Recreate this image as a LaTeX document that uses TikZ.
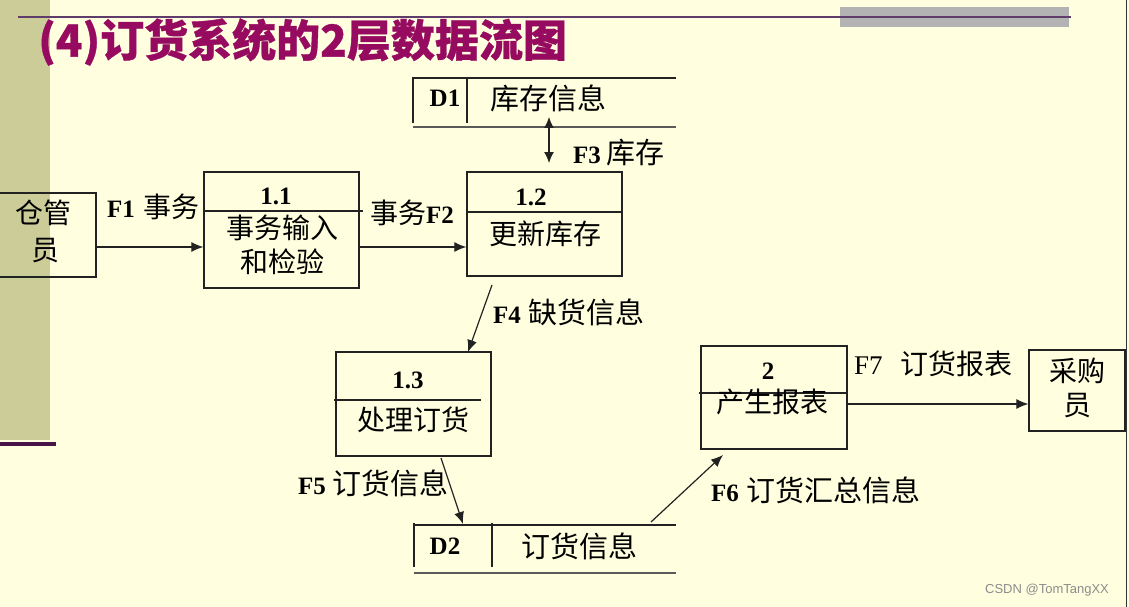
\documentclass[tikz,border=0pt]{standalone}
\usepackage{fontspec}
\setmainfont{Liberation Serif}
\newfontfamily\cjk{Noto Sans CJK SC}
\newfontfamily\titlef{Noto Sans CJK SC}[FakeBold=0.8]
\newfontfamily\wm{Liberation Sans}
\usetikzlibrary{arrows.meta,calc}
\definecolor{bgc}{RGB}{255,255,224}
\definecolor{olivec}{RGB}{204,204,153}
\definecolor{dpurp}{RGB}{70,20,70}
\definecolor{tlinec}{RGB}{95,60,105}
\definecolor{gbarc}{RGB}{179,179,179}
\definecolor{titlec}{RGB}{150,10,95}
\definecolor{lc}{RGB}{34,34,34}
\definecolor{slc}{RGB}{90,90,90}
\begin{document}
\begin{tikzpicture}[x=1pt,y=-1pt,
  box/.style={draw=lc,line width=1.3pt,inner sep=0pt},
  cj/.style={inner sep=0pt,text=black,font=\fontsize{28}{30}\selectfont\cjk},
  lt/.style={inner sep=0pt,text=black,font=\fontsize{25}{28}\selectfont\bfseries},
  arr/.style={draw=lc,line width=1.2pt,-{Latex[length=12pt,width=10pt]}},
  arrb/.style={draw=lc,line width=1.2pt,{Latex[length=11pt,width=10pt]}-{Latex[length=11pt,width=10pt]}},
  dline/.style={draw=lc,line width=1.2pt},
  sline/.style={draw=slc,line width=2pt}]
\useasboundingbox (0,0) rectangle (1129,607);
\fill[bgc] (0,0) rectangle (1129,607);
\fill[olivec] (0,0) rectangle (50,440);
\fill[dpurp] (0,442) rectangle (56,446);
\fill[gbarc] (840,7) rectangle (1069,27);
\draw[tlinec,line width=2pt] (18,17) -- (1071,17);
\draw[black!80,line width=1pt] (1126.5,0) -- (1126.5,607);
\node[anchor=west,inner sep=0pt,text=titlec,font=\fontsize{44}{48}\selectfont\titlef\bfseries] (title) at (38,42) {(4)订货系统的2层数据流图};

% external entity 仓管员
\node[box,minimum width=108,minimum height=84] (cg) at (42,235) {};
\node[cj] (cgt1) at (44,213) {仓管};
\node[cj] (cgt2) at (45,251) {员};

% process 1.1
\node[box,minimum width=155,minimum height=116] (p11) at (281.5,230) {};
\draw[dline] (203,211) -- (363,211);
\node[lt] (p11n) at (276,196) {1.1};
\node[cj] (p11a) at (282,228) {事务输入};
\node[cj] (p11b) at (282,262) {和检验};

% process 1.2
\node[box,minimum width=155,minimum height=104] (p12) at (544.5,224) {};
\draw[dline] (467,212) -- (622,212);
\node[lt] (p12n) at (531,197) {1.2};
\node[cj] (p12a) at (545,234) {更新库存};

% process 1.3
\node[box,minimum width=155,minimum height=104] (p13) at (413.5,404) {};
\draw[dline] (334,400) -- (481,400);
\node[lt] (p13n) at (408,380) {1.3};
\node[cj] (p13a) at (413,420) {处理订货};

% process 2
\node[box,minimum width=146,minimum height=103] (p2) at (774,397.5) {};
\draw[dline] (699,393) -- (847,393);
\node[lt] (p2n) at (768,371) {2};
\node[cj] (p2a) at (772,402) {产生报表};

% external entity 采购员
\node[box,minimum width=96,minimum height=81] (cgy) at (1077,390.5) {};
\node[cj] (cgyt1) at (1077,371) {采购};
\node[cj] (cgyt2) at (1077,406) {员};

% data store D1
\draw[dline] (413,77) -- (413,123);
\draw[dline] (467,77) -- (467,123);
\draw[dline] (413,78) -- (676,78);
\draw[sline] (413,127) -- (676,127);
\node[lt] (d1n) at (445,98) {D1};
\node[cj,font=\fontsize{29}{30}\selectfont\cjk] (d1t) at (548,98) {库存信息};

% data store D2
\draw[dline] (414,523) -- (414,567);
\draw[dline] (492,523) -- (492,567);
\draw[dline] (414,525) -- (676,525);
\draw[sline] (414,573) -- (676,573);
\node[lt] (d2n) at (445,546) {D2};
\node[cj,font=\fontsize{29}{30}\selectfont\cjk] (d2t) at (579,546) {订货信息};

% connectors
\coordinate (f3a) at (549,117);
\coordinate (f3b) at (549,163);
\coordinate (f4s) at (492,285);
\coordinate (f4e) at (468,352);
\coordinate (f5s) at (441,458);
\coordinate (f5e) at (463,524);
\coordinate (f6s) at (651,522);
\coordinate (f6e) at (723,455);
\draw[arr] (cg.east |- 0,247) -- (p11.west |- 0,247);
\draw[arr] (p11.east |- 0,247) -- (p12.west |- 0,247);
\draw[arrb] (f3a) -- (f3b);
\draw[arr] (f4s) -- (f4e);
\draw[arr] (f5s) -- (f5e);
\draw[arr] (f6s) -- (f6e);
\draw[arr] (p2.east |- 0,404) -- (cgy.west |- 0,404);

% flow labels
\node[anchor=west,inner sep=0pt] (l1) at (107,207) {\fontsize{25}{28}\selectfont\bfseries F1\hspace{9pt}\fontsize{28}{30}\selectfont\mdseries\cjk 事务};
\node[anchor=west,inner sep=0pt] (l2) at (370,213) {\fontsize{28}{30}\selectfont\cjk 事务\fontsize{25}{28}\selectfont\rmfamily\bfseries F2};
\node[anchor=west,inner sep=0pt] (l3) at (573,153) {\fontsize{25}{28}\selectfont\bfseries F3\hspace{6pt}\fontsize{29}{30}\selectfont\mdseries\cjk 库存};
\node[anchor=west,inner sep=0pt] (l4) at (493,312) {\fontsize{25}{28}\selectfont\bfseries F4\hspace{8pt}\fontsize{29}{30}\selectfont\mdseries\cjk 缺货信息};
\node[anchor=west,inner sep=0pt] (l5) at (298,483) {\fontsize{25}{28}\selectfont\bfseries F5\hspace{7pt}\fontsize{29}{30}\selectfont\mdseries\cjk 订货信息};
\node[anchor=west,inner sep=0pt] (l6) at (711,490) {\fontsize{25}{28}\selectfont\bfseries F6\hspace{8pt}\fontsize{29}{30}\selectfont\mdseries\cjk 订货汇总信息};
\node[anchor=west,inner sep=0pt] (l7) at (854,364) {\fontsize{27}{30}\selectfont F7\hspace{18pt}\fontsize{28}{30}\selectfont\cjk 订货报表};

\node[inner sep=0pt,text=black!45,font=\fontsize{13}{15}\selectfont\wm] (wmk) at (1047,590) {CSDN @TomTangXX};
\end{tikzpicture}
\end{document}
